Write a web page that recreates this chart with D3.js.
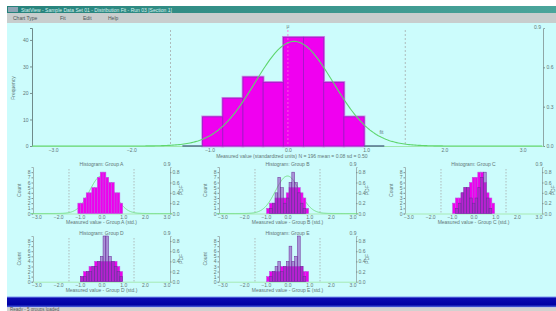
<!DOCTYPE html>
<html>
<head>
<meta charset="utf-8">
<script src="https://cdn.jsdelivr.net/npm/d3@7"></script>
<style>
    body { margin: 0; background: #fff; }
    svg { display: block; font-family: "Liberation Sans", Arial, sans-serif; }
    .tick text { fill: #5f7777; font-size: 5px; }
    .tick line { stroke: #7a9292; }
    .lbl { fill: #5f7777; font-size: 5px; }
</style>
</head>
<body>
<div id="chart"></div>
<script>
// ---- data ----
var windowTitle = "StatView - Sample Data Set 01 - Distribution Fit - Run 03 [Section 1]";
var menuItems = ["Chart Type", "Fit", "Edit", "Help"];
var statusText = "Ready - 5 groups loaded";

var xTicks = [-3, -2, -1, 0, 1, 2, 3];
var refLines = [-1.5, 1.5];

// main histogram
var mainBinStart = -1.348;
var mainBinWidth = 0.258;
var mainCounts = [0, 11, 18, 26, 24, 41, 41, 24, 11, 0];
var mainFit = { mean: 0.08, sd: 0.5 };
var countTicks = [0, 10, 20, 30, 40];
var densityTicks = [0, 0.3, 0.6];
var mainXLabel = "Measured value (standardized units)  N = 196   mean = 0.08   sd = 0.50";

// small histograms
var subBinStart = -1.09;
var subBinWidth = 0.129;
var subTitles = ["Histogram: Group A", "Histogram: Group B", "Histogram: Group C", "Histogram: Group D", "Histogram: Group E"];
var subXLabels = ["Measured value - Group A (std.)", "Measured value - Group B (std.)", "Measured value - Group C (std.)",
                  "Measured value - Group D (std.)", "Measured value - Group E (std.)"];
var subA = [
    [2, 2, 3, 4, 4, 5, 5, 7, 8, 8, 7, 6, 6, 4, 4, 2],
    [0, 1, 2, 2, 3, 3, 3, 3, 4, 5, 5, 5, 5, 4, 3, 1],
    [0, 2, 3, 3, 4, 5, 5, 6, 7, 7, 8, 8, 6, 4, 3, 2],
    [0, 1, 2, 2, 3, 3, 4, 4, 4, 4, 4, 4, 4, 4, 3, 2],
    [0, 1, 2, 2, 2, 2, 3, 3, 3, 3, 3, 3, 3, 3, 2, 2]
];
var subB = [
    null,
    [0, 0, 1, 2, 4, 7, 5, 2, 3, 6, 8, 6, 4, 2, 1, 0],
    [0, 0, 1, 2, 4, 5, 5, 3, 2, 3, 5, 7, 8, 3, 1, 0],
    [0, 1, 1, 2, 2, 3, 3, 4, 5, 9, 9, 5, 4, 3, 2, 1],
    [0, 0, 1, 2, 3, 4, 2, 3, 4, 7, 4, 5, 9, 3, 1, 0]
];
var subFit = [{ mean: 0, sd: 0.55 }, { mean: 0, sd: 0.55 }, null, null, null];
var subCountTicks = [0, 1, 2, 3, 4, 5, 6, 7, 8];
var subDensityTicks = [0, 0.2, 0.4, 0.6, 0.8];

// ---- drawing ----
var W = 556, H = 311;
var svg = d3.select("#chart").append("svg").attr("width", W).attr("height", H);

var defs = svg.append("defs");
var tg = defs.append("linearGradient").attr("id", "titleGrad");
tg.append("stop").attr("offset", "0%").attr("stop-color", "#26827b");
tg.append("stop").attr("offset", "100%").attr("stop-color", "#4ba59b");
var bg = defs.append("linearGradient").attr("id", "blueGrad").attr("x1", 0).attr("x2", 0).attr("y1", 0).attr("y2", 1);
bg.append("stop").attr("offset", "0%").attr("stop-color", "#7b96f2");
bg.append("stop").attr("offset", "18%").attr("stop-color", "#0a0ab0");
bg.append("stop").attr("offset", "75%").attr("stop-color", "#0000a4");
bg.append("stop").attr("offset", "100%").attr("stop-color", "#5d78e6");

// window chrome
svg.append("rect").attr("x", 7).attr("y", 6).attr("width", W - 7).attr("height", 7).attr("fill", "url(#titleGrad)");
svg.append("rect").attr("x", 8).attr("y", 7).attr("width", 10).attr("height", 5).attr("fill", "#8ea4b4");
svg.append("text").attr("x", 21).attr("y", 11.6).attr("font-size", 5).attr("fill", "#d9f1ee").text(windowTitle);
svg.append("rect").attr("x", 7).attr("y", 13).attr("width", W - 7).attr("height", 10).attr("fill", "#c8cdcd");
var menuX = [13, 60, 83, 108];
menuItems.forEach(function(m, i) {
    svg.append("text").attr("x", menuX[i]).attr("y", 20).attr("font-size", 5).attr("fill", "#4a5555").text(m);
});
svg.append("rect").attr("x", 7).attr("y", 23).attr("width", W - 7).attr("height", 274).attr("fill", "#ccfcfc");
svg.append("rect").attr("x", 7).attr("y", 296.5).attr("width", W - 7).attr("height", 11).attr("fill", "url(#blueGrad)");
svg.append("rect").attr("x", 7).attr("y", 307.5).attr("width", W - 7).attr("height", 4).attr("fill", "#d2d2d0");
svg.append("text").attr("x", 10).attr("y", 311).attr("font-size", 4.5).attr("fill", "#555").text(statusText);

function pdf(v, fit) {
    return Math.exp(-0.5 * Math.pow((v - fit.mean) / fit.sd, 2)) / (fit.sd * Math.sqrt(2 * Math.PI));
}

// ---- main chart ----
var m = { left: 32, right: 543, top: 28, bottom: 146 };
var x = d3.scaleLinear().domain([-3.27, 3.26]).range([m.left, m.right]);
var yc = d3.scaleLinear().domain([0, 44.5]).range([m.bottom, m.top]);
var yd = d3.scaleLinear().domain([0, 0.9]).range([m.bottom, m.top]);

var main = svg.append("g").attr("class", "main");

main.append("g").attr("transform", "translate(" + m.left + ",0)")
    .call(d3.axisLeft(yc).tickValues(countTicks).tickSize(2).tickPadding(1.5))
    .call(function(g) { g.select(".domain").attr("stroke", "#6f8a8a"); });
main.append("g").attr("transform", "translate(" + m.right + ",0)")
    .call(d3.axisRight(yd).tickValues(densityTicks).tickSize(2).tickPadding(1.5))
    .call(function(g) { g.select(".domain").attr("stroke", "#8fa6a6"); });
main.append("text").attr("class", "lbl").attr("x", m.right - 2).attr("y", m.top + 1).attr("text-anchor", "end").text("0.9");

main.append("g").attr("transform", "translate(0," + m.bottom + ")")
    .call(d3.axisBottom(x).tickValues(xTicks).tickSize(0).tickPadding(2).tickFormat(d3.format(".1f")))
    .call(function(g) { g.select(".domain").attr("stroke", "#9ee8ae").attr("stroke-width", 1.2); });

main.append("text").attr("class", "lbl").attr("transform", "translate(15,88) rotate(-90)")
    .attr("text-anchor", "middle").text("Frequency");
main.append("text").attr("class", "lbl").attr("x", x(0.05)).attr("y", m.bottom + 11.5)
    .attr("text-anchor", "middle").attr("font-size", 4.6).text(mainXLabel);

// reference lines
main.selectAll(".ref").data(refLines).enter().append("line")
    .attr("x1", function(d) { return x(d); }).attr("x2", function(d) { return x(d); })
    .attr("y1", m.top + 2).attr("y2", m.bottom)
    .attr("stroke", "#aebcbc").attr("stroke-dasharray", "2,2");

var mainBins = mainCounts.map(function(c, i) {
    return { x0: mainBinStart + i * mainBinWidth, x1: mainBinStart + (i + 1) * mainBinWidth, n: c };
});
var filled = mainBins.filter(function(d) { return d.n > 0; });
var empty = mainBins.filter(function(d) { return d.n === 0; });

main.selectAll(".halo").data(filled).enter().append("rect")
    .attr("x", function(d) { return x(d.x0); })
    .attr("width", function(d) { return x(d.x1) - x(d.x0); })
    .attr("y", function(d) { return yc(d.n); })
    .attr("height", function(d) { return m.bottom - yc(d.n); })
    .attr("fill", "none").attr("stroke", "#c98ae6").attr("stroke-width", 2.6);
main.selectAll(".bar").data(filled).enter().append("rect")
    .attr("x", function(d) { return x(d.x0); })
    .attr("width", function(d) { return x(d.x1) - x(d.x0); })
    .attr("y", function(d) { return yc(d.n); })
    .attr("height", function(d) { return m.bottom - yc(d.n); })
    .attr("fill", "#f000f0").attr("stroke", "#a418c8").attr("stroke-width", 0.9);
main.selectAll(".empty").data(empty).enter().append("line")
    .attr("x1", function(d) { return x(d.x0); }).attr("x2", function(d) { return x(d.x1); })
    .attr("y1", m.bottom).attr("y2", m.bottom)
    .attr("stroke", "#55708c").attr("stroke-width", 1.5);

// center line
main.append("line").attr("x1", x(0)).attr("x2", x(0)).attr("y1", m.top + 2).attr("y2", m.bottom)
    .attr("stroke", "#ff66dd").attr("stroke-opacity", 0.8).attr("stroke-dasharray", "2,2");
main.append("text").attr("class", "lbl").attr("x", x(0)).attr("y", m.top).attr("text-anchor", "middle").text("μ");

// fitted curve
var xs = d3.range(-3.27, 3.26, 0.02);
main.append("path").datum(xs)
    .attr("fill", "none").attr("stroke", "#5fd66f").attr("stroke-width", 1.1)
    .attr("d", d3.line().x(function(d) { return x(d); }).y(function(d) { return yd(pdf(d, mainFit)); }));
main.append("text").attr("class", "lbl").attr("x", x(1.17)).attr("y", yd(0.09)).text("fit");

// ---- small charts ----
var colLeft = [33, 219, 405], subW = 137;
var rowTop = [167, 236], rowBottom = [213.5, 281.7];

subA.forEach(function(counts, i) {
    var col = i % 3, row = Math.floor(i / 3);
    var l = colLeft[col], r = l + subW, t = rowTop[row], b = rowBottom[row];
    var sx = d3.scaleLinear().domain([-3.16, 3.16]).range([l, r]);
    var sy = d3.scaleLinear().domain([0, 9]).range([b, t]);
    var sd = d3.scaleLinear().domain([0, 0.9]).range([b, t]);
    var g = svg.append("g").attr("class", "sub");

    g.append("g").attr("transform", "translate(" + l + ",0)")
        .call(d3.axisLeft(sy).tickValues(subCountTicks).tickSize(1.5).tickPadding(1))
        .call(function(a) { a.select(".domain").attr("stroke", "#9fb5b5"); a.selectAll("text").attr("font-size", 3.4); });
    g.append("g").attr("transform", "translate(" + r + ",0)")
        .call(d3.axisRight(sd).tickValues(subDensityTicks).tickSize(1.5).tickPadding(1).tickFormat(d3.format(".1f")))
        .call(function(a) { a.select(".domain").attr("stroke", "#9fb5b5"); a.selectAll("text").attr("font-size", 3.4); });
    g.append("g").attr("transform", "translate(0," + b + ")")
        .call(d3.axisBottom(sx).tickValues(xTicks).tickSize(0).tickPadding(2).tickFormat(d3.format(".1f")))
        .call(function(a) { a.select(".domain").attr("stroke", "#a6eab4"); a.selectAll("text").attr("font-size", 3.4); });

    g.append("text").attr("class", "lbl").attr("x", sx(0)).attr("y", t - 1.5).attr("text-anchor", "middle")
        .attr("font-size", 4).text(subTitles[i]);
    g.append("text").attr("class", "lbl").attr("x", r - 3).attr("y", t - 1.5).attr("text-anchor", "middle")
        .attr("font-size", 3.6).text("0.9");
    g.append("text").attr("class", "lbl").attr("x", sx(0)).attr("y", b + 10.5).attr("text-anchor", "middle")
        .attr("font-size", 3.6).text(subXLabels[i]);
    g.append("text").attr("class", "lbl").attr("transform", "translate(" + (l - 12) + "," + ((t + b) / 2) + ") rotate(-90)")
        .attr("text-anchor", "middle").attr("font-size", 3.8).text("Count");
    g.append("text").attr("class", "lbl").attr("transform", "translate(" + (r + 12.5) + "," + ((t + b) / 2) + ") rotate(-90)")
        .attr("text-anchor", "middle").attr("font-size", 3.8).text("PDF");

    g.selectAll(".ref").data(refLines).enter().append("line")
        .attr("x1", function(d) { return sx(d); }).attr("x2", function(d) { return sx(d); })
        .attr("y1", t + 2).attr("y2", b)
        .attr("stroke", "#aebcbc").attr("stroke-dasharray", "1.5,1.5");

    if (subFit[i]) {
        g.append("path").datum(xs)
            .attr("fill", "none").attr("stroke", "#6fdc80").attr("stroke-width", 0.9)
            .attr("d", d3.line().x(function(d) { return sx(d); }).y(function(d) { return sd(pdf(d, subFit[i])); }));
    }

    var binsA = counts.map(function(c, k) { return { x0: subBinStart + k * subBinWidth, n: c }; })
        .filter(function(d) { return d.n > 0; });
    g.selectAll(".barA").data(binsA).enter().append("rect")
        .attr("x", function(d) { return sx(d.x0); })
        .attr("width", function(d) { return sx(d.x0 + subBinWidth) - sx(d.x0); })
        .attr("y", function(d) { return sy(d.n); })
        .attr("height", function(d) { return b - sy(d.n); })
        .attr("fill", "#ee00ee").attr("stroke", "#c050e0").attr("stroke-width", 0.6);

    if (subB[i]) {
        var binsB = subB[i].map(function(c, k) { return { x0: subBinStart + k * subBinWidth, n: c }; })
            .filter(function(d) { return d.n > 0; });
        g.selectAll(".barB").data(binsB).enter().append("rect")
            .attr("x", function(d) { return sx(d.x0); })
            .attr("width", function(d) { return sx(d.x0 + subBinWidth) - sx(d.x0); })
            .attr("y", function(d) { return sy(d.n); })
            .attr("height", function(d) { return b - sy(d.n); })
            .attr("fill", "#8a3cb8").attr("fill-opacity", 0.55)
            .attr("stroke", "#6a2a98").attr("stroke-width", 0.5);
    }
});
</script>
</body>
</html>
